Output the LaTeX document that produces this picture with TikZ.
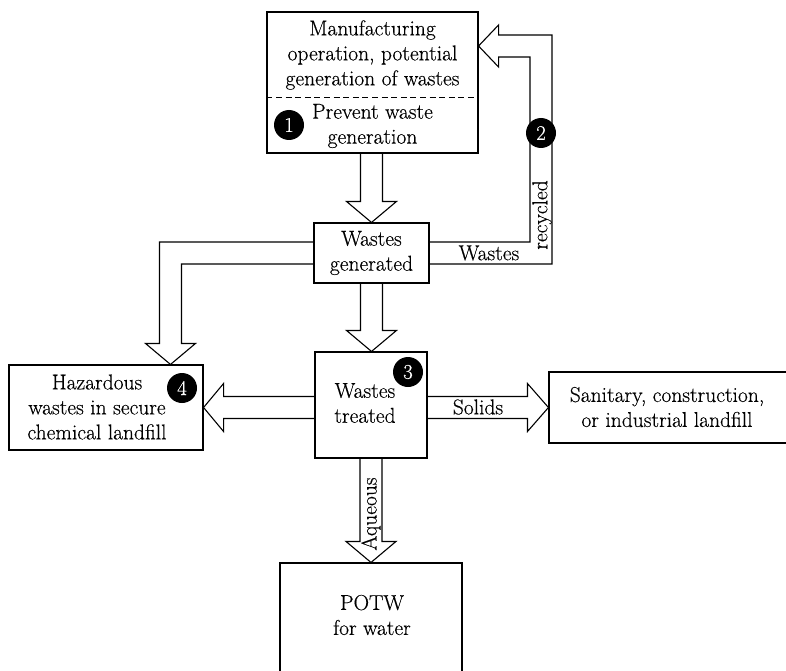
\documentclass[tikz,border=0pt]{standalone}
\usepackage{fontspec}
\setmainfont{Latin Modern Roman}[UprightFeatures={FakeBold=0.35}]
\usetikzlibrary{calc}
\begin{document}
\begin{tikzpicture}[x=1pt,y=-1pt,
  box/.style={draw, line width=1.1pt, inner sep=0pt},
  lbl/.style={font=\fontsize{21.5}{25}\selectfont, align=center, inner sep=0pt},
  badge/.style={circle, fill=black, text=white, minimum size=30pt, inner sep=0pt,
    font=\fontsize{21}{21}\selectfont},
  blk/.style={draw, line width=1.1pt, line join=miter},
]
\useasboundingbox (0,0) rectangle (786,671);

% boxes
\node[box, minimum width=211pt, minimum height=141pt] (mfg) at (372.5,82.5) {};
\node[box, minimum width=115pt, minimum height=60pt] (gen) at (371.5,253) {};
\node[box, minimum width=112pt, minimum height=106pt] (treat) at (371,405) {};
\node[box, minimum width=194pt, minimum height=85pt] (haz) at (106,407.5) {};
\node[box, minimum width=251pt, minimum height=71pt] (san) at (674.5,407.5) {};
\node[box, minimum width=182pt, minimum height=137pt] (potw) at (371,631.5) {};

% bend points of the two L-shaped arrows
\coordinate (rc) at (541,46);
\coordinate (lc) at (170.5,253);

% box texts
\draw[line width=1pt, dash pattern=on 6pt off 3.6pt] (mfg.west |- 0,98) -- (mfg.east |- 0,98);
\node[lbl] (mfgtxt) at (372.5,55) {Manufacturing\\operation, potential\\generation of wastes};
\node[lbl] (prevtxt) at (372.5,126) {Prevent waste\\generation};
\node[lbl] (gentxt) at (371.5,253) {Wastes\\generated};
\node[lbl] (treattxt) at (365,403) {Wastes\\treated};
\node[lbl] (haztxt) at (97,407) {Hazardous\\wastes in secure\\chemical landfill};
\node[lbl] (santxt) at (667,407) {Sanitary, construction,\\or industrial landfill};
\node[lbl] (potwtxt) at (372,615) {POTW\\for water};

% hollow block arrows
\draw[blk] let \p1=(mfg.south), \p2=(gen.north) in
  (\x2-11pt,\y1) -- (\x2-11pt,\y2+21pt) -- (\x2-25pt,\y2+21pt) -- (\p2)
  -- (\x2+25pt,\y2+21pt) -- (\x2+11pt,\y2+21pt) -- (\x2+11pt,\y1);
\draw[blk] let \p1=(gen.south), \p2=(treat.north) in
  (\x1-11pt,\y1) -- (\x1-11pt,\y2+21pt) -- (\x1-25pt,\y2+21pt) -- (\x1,\y2)
  -- (\x1+25pt,\y2+21pt) -- (\x1+11pt,\y2+21pt) -- (\x1+11pt,\y1);
\draw[blk] let \p1=(gen.east), \p2=(mfg.east), \p3=(rc) in
  (\x1,\y1+11pt) -- (\x3-11pt,\y1+11pt) -- (\x3-11pt,\y3-11pt) -- (\x2+20pt,\y3-11pt)
  -- (\x2+20pt,\y3-21pt) -- (\x2,\y3) -- (\x2+20pt,\y3+21pt) -- (\x2+20pt,\y3+11pt)
  -- (\x3+11pt,\y3+11pt) -- (\x3+11pt,\y1-11pt) -- (\x1,\y1-11pt);
\draw[blk] let \p1=(gen.west), \p2=(haz.north), \p3=(lc) in
  (\x1,\y1+11pt) -- (\x3-11pt,\y1+11pt) -- (\x3-11pt,\y2+21pt) -- (\x3-25pt,\y2+21pt)
  -- (\x3,\y2) -- (\x3+25pt,\y2+21pt) -- (\x3+11pt,\y2+21pt) -- (\x3+11pt,\y1-11pt)
  -- (\x1,\y1-11pt);
\draw[blk] let \p1=(treat.west), \p2=(haz.east) in
  (\x1,\y2+11pt) -- (\x2+20pt,\y2+11pt) -- (\x2+20pt,\y2+24pt) -- (\p2)
  -- (\x2+20pt,\y2-24pt) -- (\x2+20pt,\y2-11pt) -- (\x1,\y2-11pt);
\draw[blk] let \p1=(treat.east), \p2=(san.west) in
  (\x1,\y2+11pt) -- (\x2-21pt,\y2+11pt) -- (\x2-21pt,\y2+24pt) -- (\p2)
  -- (\x2-21pt,\y2-24pt) -- (\x2-21pt,\y2-11pt) -- (\x1,\y2-11pt);
\draw[blk] let \p1=(treat.south), \p2=(potw.north) in
  (\x2-11pt,\y1) -- (\x2-11pt,\y2+21pt) -- (\x2-25pt,\y2+21pt) -- (\p2)
  -- (\x2+25pt,\y2+21pt) -- (\x2+11pt,\y2+21pt) -- (\x2+11pt,\y1);

% arrow labels
\node[lbl] (lwastes) at (489,253) {Wastes};
\node[lbl, rotate=90] (lrecycled) at (542,215) {recycled};
\node[lbl] (lsolids) at (478,407) {Solids};
\node[lbl, rotate=90] (laqueous) at (371,514) {Aqueous};

% numbered markers
\node[badge] (n1) at (289,125) {1};
\node[badge] (n2) at (541,133) {2};
\node[badge] (n3) at (408,372) {3};
\node[badge] (n4) at (182,388) {4};
\end{tikzpicture}
\end{document}
